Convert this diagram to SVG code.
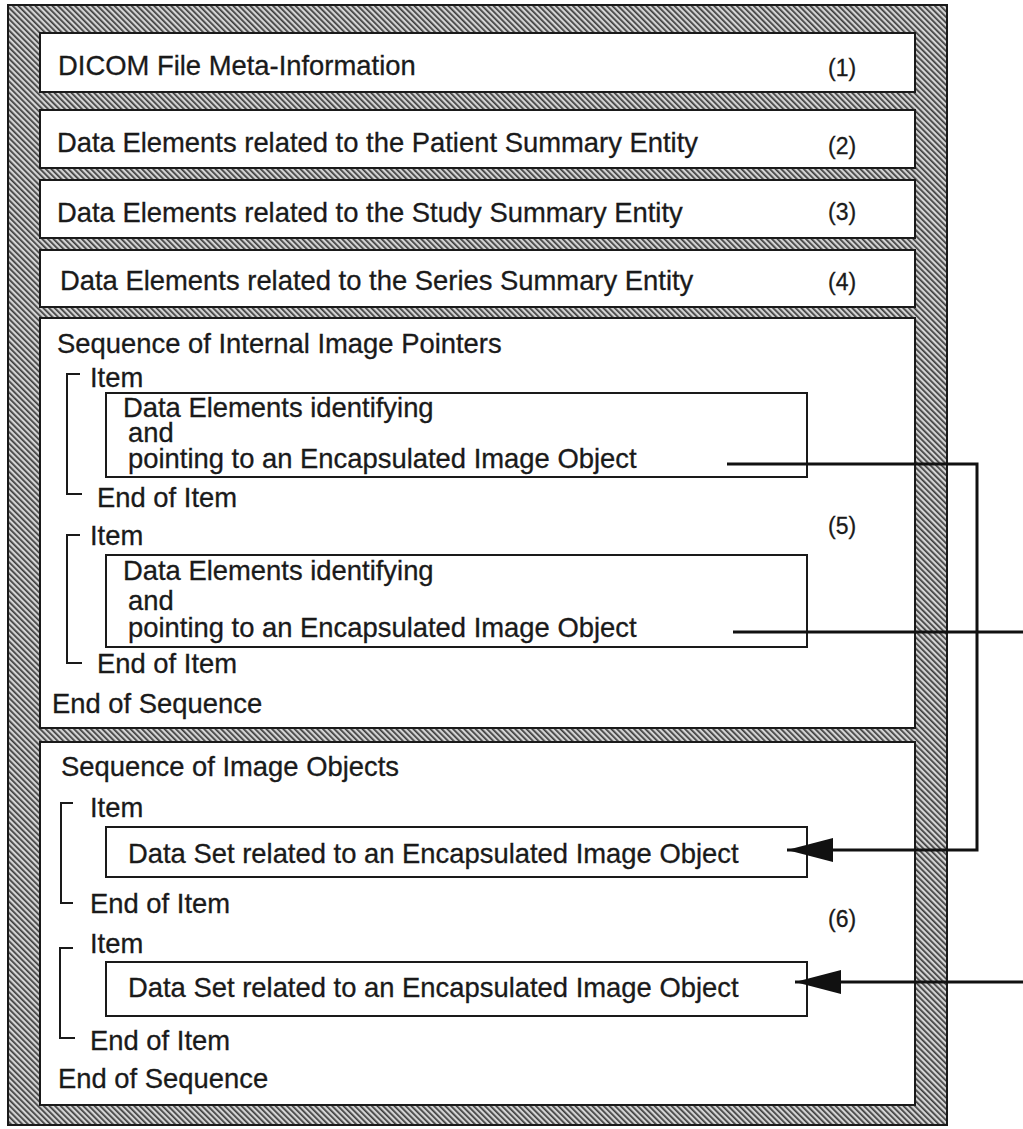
<svg xmlns="http://www.w3.org/2000/svg" width="1023" height="1129" viewBox="0 0 1023 1129">
<defs>
<pattern id="hatch" width="4" height="4" patternUnits="userSpaceOnUse" patternTransform="rotate(-45)">
<rect width="4" height="4" fill="#d4d4d4"/>
<rect x="0" y="0" width="1.7" height="4" fill="#3c3c3c"/>
</pattern>
<marker id="arr" markerUnits="userSpaceOnUse" markerWidth="48" markerHeight="26" refX="46" refY="12" orient="auto">
<path d="M0,0 L46,12 L0,24 Z" fill="#111"/>
</marker>
</defs>
<style>
.box{fill:#fff;stroke:#1a1a1a;stroke-width:2}
.inner{fill:#fff;stroke:#1a1a1a;stroke-width:2}
.t{font-family:"Liberation Sans",Arial,sans-serif;font-size:27.4px;fill:#1a1a1a;stroke:#1a1a1a;stroke-width:0.3}
.n{font-family:"Liberation Sans",Arial,sans-serif;font-size:23px;fill:#1a1a1a;stroke:#1a1a1a;stroke-width:0.3}
.br{fill:none;stroke:#1a1a1a;stroke-width:2}
.conn{fill:none;stroke:#111;stroke-width:3}
</style>
<rect width="1023" height="1129" fill="#fff"/>
<g id="frame">
<rect x="8" y="5" width="939" height="1120" fill="url(#hatch)" stroke="#1a1a1a" stroke-width="2"/>
</g>
<g id="node1">
<rect class="box" x="40" y="33" width="875" height="59"/>
<text class="t" x="58" y="75">DICOM File Meta-Information</text>
<text class="n" x="828" y="76">(1)</text>
</g>
<g id="node2">
<rect class="box" x="40" y="110" width="875" height="58"/>
<text class="t" x="57" y="152">Data Elements related to the Patient Summary Entity</text>
<text class="n" x="828" y="154">(2)</text>
</g>
<g id="node3">
<rect class="box" x="40" y="180" width="875" height="58"/>
<text class="t" x="57" y="222">Data Elements related to the Study Summary Entity</text>
<text class="n" x="828" y="220">(3)</text>
</g>
<g id="node4">
<rect class="box" x="40" y="250" width="875" height="57"/>
<text class="t" x="60" y="290">Data Elements related to the Series Summary Entity</text>
<text class="n" x="828" y="290">(4)</text>
</g>
<g id="node5">
<rect class="box" x="40" y="318" width="875" height="410"/>
<text class="t" x="57" y="353">Sequence of Internal Image Pointers</text>
<path class="br" d="M80,374 H67 V494 H82"/>
<text class="t" x="90" y="387">Item</text>
<text class="t" x="97" y="507">End of Item</text>
<path class="br" d="M80,535 H67 V663 H82"/>
<text class="t" x="90" y="545">Item</text>
<text class="t" x="97" y="673">End of Item</text>
<text class="t" x="52" y="713">End of Sequence</text>
<text class="n" x="828" y="534">(5)</text>
</g>
<g id="node5a">
<rect class="inner" x="106" y="393" width="701" height="84"/>
<text class="t" x="123" y="417">Data Elements identifying</text>
<text class="t" x="128" y="442">and</text>
<text class="t" x="128" y="468">pointing to an Encapsulated Image Object</text>
</g>
<g id="node5b">
<rect class="inner" x="106" y="555" width="701" height="92"/>
<text class="t" x="123" y="580">Data Elements identifying</text>
<text class="t" x="128" y="610">and</text>
<text class="t" x="128" y="637">pointing to an Encapsulated Image Object</text>
</g>
<g id="node6">
<rect class="box" x="40" y="742" width="875" height="363"/>
<text class="t" x="61" y="776">Sequence of Image Objects</text>
<path class="br" d="M73,803 H61 V903 H73"/>
<text class="t" x="90" y="817">Item</text>
<text class="t" x="90" y="913">End of Item</text>
<path class="br" d="M73,948 H60 V1038 H75"/>
<text class="t" x="90" y="953">Item</text>
<text class="t" x="90" y="1050">End of Item</text>
<text class="t" x="58" y="1088">End of Sequence</text>
<text class="n" x="828" y="927">(6)</text>
</g>
<g id="node6a">
<rect class="inner" x="106" y="827" width="701" height="50"/>
<text class="t" x="128" y="863">Data Set related to an Encapsulated Image Object</text>
</g>
<g id="node6b">
<rect class="inner" x="106" y="962" width="701" height="54"/>
<text class="t" x="128" y="997">Data Set related to an Encapsulated Image Object</text>
</g>
<g id="connectors">
<path class="conn" d="M727,464 H977 V850 H787" marker-end="url(#arr)"/>
<path class="conn" d="M733,632 H1023"/>
<path class="conn" d="M1023,982 H795" marker-end="url(#arr)"/>
</g>
</svg>
